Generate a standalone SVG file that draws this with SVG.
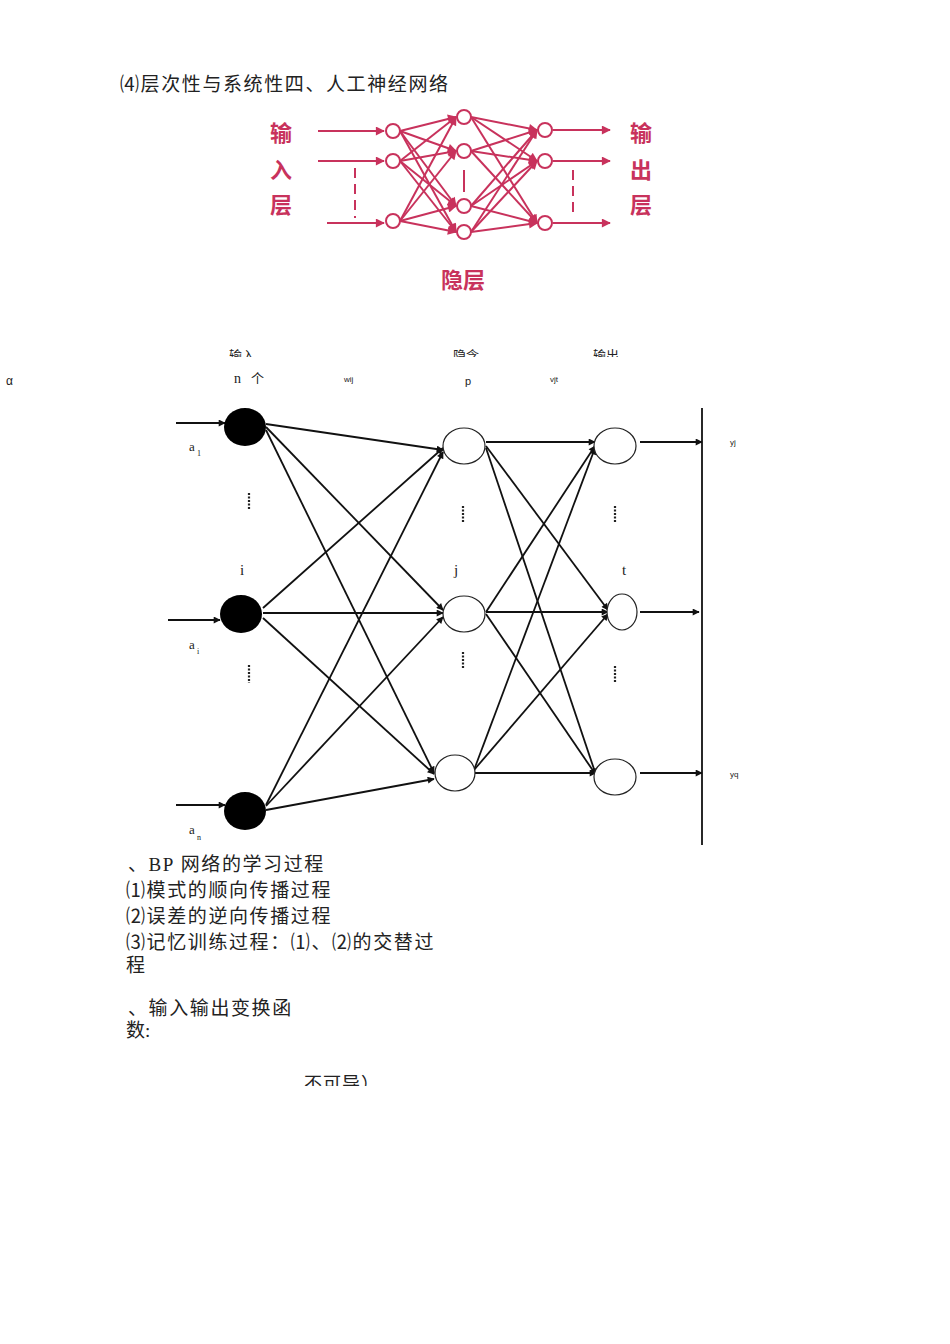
<svg xmlns="http://www.w3.org/2000/svg" width="950" height="1344" viewBox="0 0 950 1344">
<defs>
<style>
.t{font-family:"Liberation Serif","Noto Sans CJK SC",serif;fill:#222}
.b{letter-spacing:1.6px}
.s{font-family:"Liberation Sans","Noto Sans CJK SC",sans-serif;fill:#222}
.pk{stroke:#c8325c;stroke-width:2;fill:none}
.pn{stroke:#c8325c;stroke-width:2;fill:#fff}
.pl{font-family:"Noto Sans CJK SC",sans-serif;font-weight:bold;fill:#c8325c;font-size:22px}
.k{stroke:#111;stroke-width:1.8;fill:none}
.hn{stroke:#222;stroke-width:1.2;fill:#fff}
.dot{stroke:#222;stroke-width:2.2;stroke-dasharray:2,1.5}
</style>
<marker id="ap" viewBox="0 0 10 10" refX="9" refY="5" markerWidth="11" markerHeight="9" markerUnits="userSpaceOnUse" orient="auto"><path d="M0,0 L10,5 L0,10 z" fill="#c8325c"/></marker>
<marker id="ak" viewBox="0 0 10 10" refX="9" refY="5" markerWidth="9" markerHeight="7" markerUnits="userSpaceOnUse" orient="auto"><path d="M0,0 L10,5 L0,10 z" fill="#111"/></marker>
<clipPath id="c1"><rect x="0" y="340" width="950" height="17"/></clipPath>
<clipPath id="c2"><rect x="0" y="1068" width="950" height="18"/></clipPath>
</defs>
<rect width="950" height="1344" fill="#fff"/>

<text class="t b" x="120" y="91" font-size="19">⑷层次性与系统性四、人工神经网络</text>

<g id="pink-connectors" marker-end="url(#ap)">
<line class="pk" x1="318" y1="131" x2="384" y2="131"/>
<line class="pk" x1="318" y1="161" x2="384" y2="161"/>
<line class="pk" x1="327" y1="223" x2="384" y2="223"/>
<line class="pk" x1="400" y1="131" x2="456" y2="117"/>
<line class="pk" x1="400" y1="131" x2="456" y2="151"/>
<line class="pk" x1="400" y1="131" x2="456" y2="206"/>
<line class="pk" x1="400" y1="131" x2="456" y2="232"/>
<line class="pk" x1="400" y1="161" x2="456" y2="117"/>
<line class="pk" x1="400" y1="161" x2="456" y2="151"/>
<line class="pk" x1="400" y1="161" x2="456" y2="206"/>
<line class="pk" x1="400" y1="161" x2="456" y2="232"/>
<line class="pk" x1="400" y1="221" x2="456" y2="117"/>
<line class="pk" x1="400" y1="221" x2="456" y2="151"/>
<line class="pk" x1="400" y1="221" x2="456" y2="206"/>
<line class="pk" x1="400" y1="221" x2="456" y2="232"/>
<line class="pk" x1="471" y1="117" x2="537" y2="130"/>
<line class="pk" x1="471" y1="117" x2="537" y2="161"/>
<line class="pk" x1="471" y1="117" x2="537" y2="223"/>
<line class="pk" x1="471" y1="151" x2="537" y2="130"/>
<line class="pk" x1="471" y1="151" x2="537" y2="161"/>
<line class="pk" x1="471" y1="151" x2="537" y2="223"/>
<line class="pk" x1="471" y1="206" x2="537" y2="130"/>
<line class="pk" x1="471" y1="206" x2="537" y2="161"/>
<line class="pk" x1="471" y1="206" x2="537" y2="223"/>
<line class="pk" x1="471" y1="232" x2="537" y2="130"/>
<line class="pk" x1="471" y1="232" x2="537" y2="161"/>
<line class="pk" x1="471" y1="232" x2="537" y2="223"/>
<line class="pk" x1="553" y1="130" x2="610" y2="130"/>
<line class="pk" x1="553" y1="161" x2="610" y2="161"/>
<line class="pk" x1="553" y1="223" x2="610" y2="223"/>
</g>
<g id="pink-dashes">
<line class="pk" x1="355" y1="168" x2="355" y2="218" stroke-dasharray="10,6"/>
<line class="pk" x1="464" y1="170" x2="464" y2="192"/>
<line class="pk" x1="573" y1="170" x2="573" y2="213" stroke-dasharray="10,6"/>
</g>
<g id="pink-nodes">
<circle class="pn" cx="393" cy="131" r="7"/>
<circle class="pn" cx="393" cy="161" r="7"/>
<circle class="pn" cx="393" cy="221" r="7"/>
<circle class="pn" cx="464" cy="117" r="7"/>
<circle class="pn" cx="464" cy="151" r="7"/>
<circle class="pn" cx="464" cy="206" r="7"/>
<circle class="pn" cx="464" cy="232" r="7"/>
<circle class="pn" cx="545" cy="130" r="7"/>
<circle class="pn" cx="545" cy="161" r="7"/>
<circle class="pn" cx="545" cy="223" r="7"/>
</g>
<g id="pink-labels">
<text class="pl" x="281" y="141" text-anchor="middle">输</text>
<text class="pl" x="281" y="178" text-anchor="middle">入</text>
<text class="pl" x="281" y="213" text-anchor="middle">层</text>
<text class="pl" x="641" y="141" text-anchor="middle">输</text>
<text class="pl" x="641" y="178" text-anchor="middle">出</text>
<text class="pl" x="641" y="213" text-anchor="middle">层</text>
<text class="pl" x="463" y="288" text-anchor="middle">隐层</text>
</g>

<g id="header-labels">
<g clip-path="url(#c1)">
<text class="s" x="229" y="360" font-size="13">输入</text>
<text class="s" x="453" y="360" font-size="13">隐含</text>
<text class="s" x="593" y="360" font-size="13">输出</text>
</g>
<text class="s" x="6" y="385" font-size="12">α</text>
<text class="t" x="234" y="383" font-size="14">n</text>
<text class="s" x="251" y="383" font-size="13">个</text>
<text class="s" x="344" y="382" font-size="8">wij</text>
<text class="s" x="465" y="385" font-size="11">p</text>
<text class="s" x="550" y="382" font-size="8">vjt</text>
</g>

<g id="connectors" marker-end="url(#ak)">
<line class="k" x1="176" y1="423" x2="225" y2="423" stroke-width="1.2"/>
<line class="k" x1="168" y1="620" x2="220" y2="620" stroke-width="1.2"/>
<line class="k" x1="176" y1="805" x2="225" y2="805" stroke-width="1.2"/>
<line class="k" x1="266" y1="424" x2="443" y2="450"/>
<line class="k" x1="266" y1="427" x2="443" y2="610"/>
<line class="k" x1="266" y1="430" x2="434" y2="773"/>
<line class="k" x1="263" y1="608" x2="443" y2="448"/>
<line class="k" x1="263" y1="613" x2="443" y2="613"/>
<line class="k" x1="263" y1="618" x2="434" y2="774"/>
<line class="k" x1="266" y1="805" x2="443" y2="452"/>
<line class="k" x1="266" y1="806" x2="443" y2="617"/>
<line class="k" x1="266" y1="810" x2="434" y2="779"/>
<line class="k" x1="486" y1="442" x2="595" y2="442"/>
<line class="k" x1="486" y1="446" x2="608" y2="610"/>
<line class="k" x1="486" y1="448" x2="596" y2="775"/>
<line class="k" x1="486" y1="612" x2="595" y2="446"/>
<line class="k" x1="486" y1="612" x2="608" y2="612"/>
<line class="k" x1="486" y1="614" x2="596" y2="775"/>
<line class="k" x1="474" y1="770" x2="595" y2="448"/>
<line class="k" x1="474" y1="770" x2="608" y2="614"/>
<line class="k" x1="474" y1="773" x2="596" y2="773"/>
<line class="k" x1="640" y1="442" x2="702" y2="442"/>
<line class="k" x1="640" y1="612" x2="699" y2="612"/>
<line class="k" x1="640" y1="773" x2="702" y2="773"/>
</g>
<line id="output-bar" class="k" x1="702" y1="408" x2="702" y2="845" stroke-width="1.2"/>

<g id="dots">
<line class="dot" x1="249" y1="493" x2="249" y2="510"/>
<line class="dot" x1="249" y1="665" x2="249" y2="683"/>
<line class="dot" x1="463" y1="506" x2="463" y2="523"/>
<line class="dot" x1="463" y1="652" x2="463" y2="669"/>
<line class="dot" x1="615" y1="506" x2="615" y2="523"/>
<line class="dot" x1="615" y1="666" x2="615" y2="683"/>
</g>

<g id="input-nodes">
<ellipse id="in1" cx="245" cy="427" rx="21" ry="19" fill="#000"/>
<ellipse id="in2" cx="241" cy="614" rx="21" ry="19" fill="#000"/>
<ellipse id="in3" cx="245" cy="811" rx="21" ry="19" fill="#000"/>
</g>
<g id="hidden-nodes">
<ellipse id="h1" class="hn" cx="464" cy="446" rx="21" ry="18"/>
<ellipse id="h2" class="hn" cx="464" cy="614" rx="21" ry="18"/>
<ellipse id="h3" class="hn" cx="455" cy="773" rx="20" ry="18"/>
</g>
<g id="output-nodes">
<ellipse id="o1" class="hn" cx="615" cy="446" rx="21" ry="18"/>
<ellipse id="o2" class="hn" cx="622" cy="612" rx="15" ry="18"/>
<ellipse id="o3" class="hn" cx="615" cy="777" rx="21" ry="18"/>
</g>

<g id="net-labels">
<text class="t" x="189" y="451" font-size="13">a</text><text class="t" x="197" y="456" font-size="8">1</text>
<text class="t" x="189" y="649" font-size="13">a</text><text class="t" x="197" y="654" font-size="8">i</text>
<text class="t" x="189" y="834" font-size="13">a</text><text class="t" x="197" y="840" font-size="8">n</text>
<text class="t" x="242" y="575" font-size="15" text-anchor="middle">i</text>
<text class="t" x="456" y="575" font-size="15" text-anchor="middle">j</text>
<text class="t" x="624" y="575" font-size="15" text-anchor="middle">t</text>
<text class="s" x="730" y="445" font-size="8">yj</text>
<text class="s" x="730" y="777" font-size="8">yq</text>
</g>

<g id="body-text">
<text class="t b" x="128" y="871" font-size="19">、BP 网络的学习过程</text>
<text class="t b" x="126" y="897" font-size="19">⑴模式的顺向传播过程</text>
<text class="t b" x="126" y="923" font-size="19">⑵误差的逆向传播过程</text>
<text class="t b" x="126" y="949" font-size="19">⑶记忆训练过程：⑴、⑵的交替过</text>
<text class="t" x="126" y="972" font-size="19">程</text>
<text class="t b" x="128" y="1015" font-size="19">、输入输出变换函</text>
<text class="t" x="126" y="1037" font-size="19">数:</text>
<g clip-path="url(#c2)">
<text class="s" x="304" y="1090" font-size="18" letter-spacing="1">不可导）</text>
</g>
</g>
</svg>
